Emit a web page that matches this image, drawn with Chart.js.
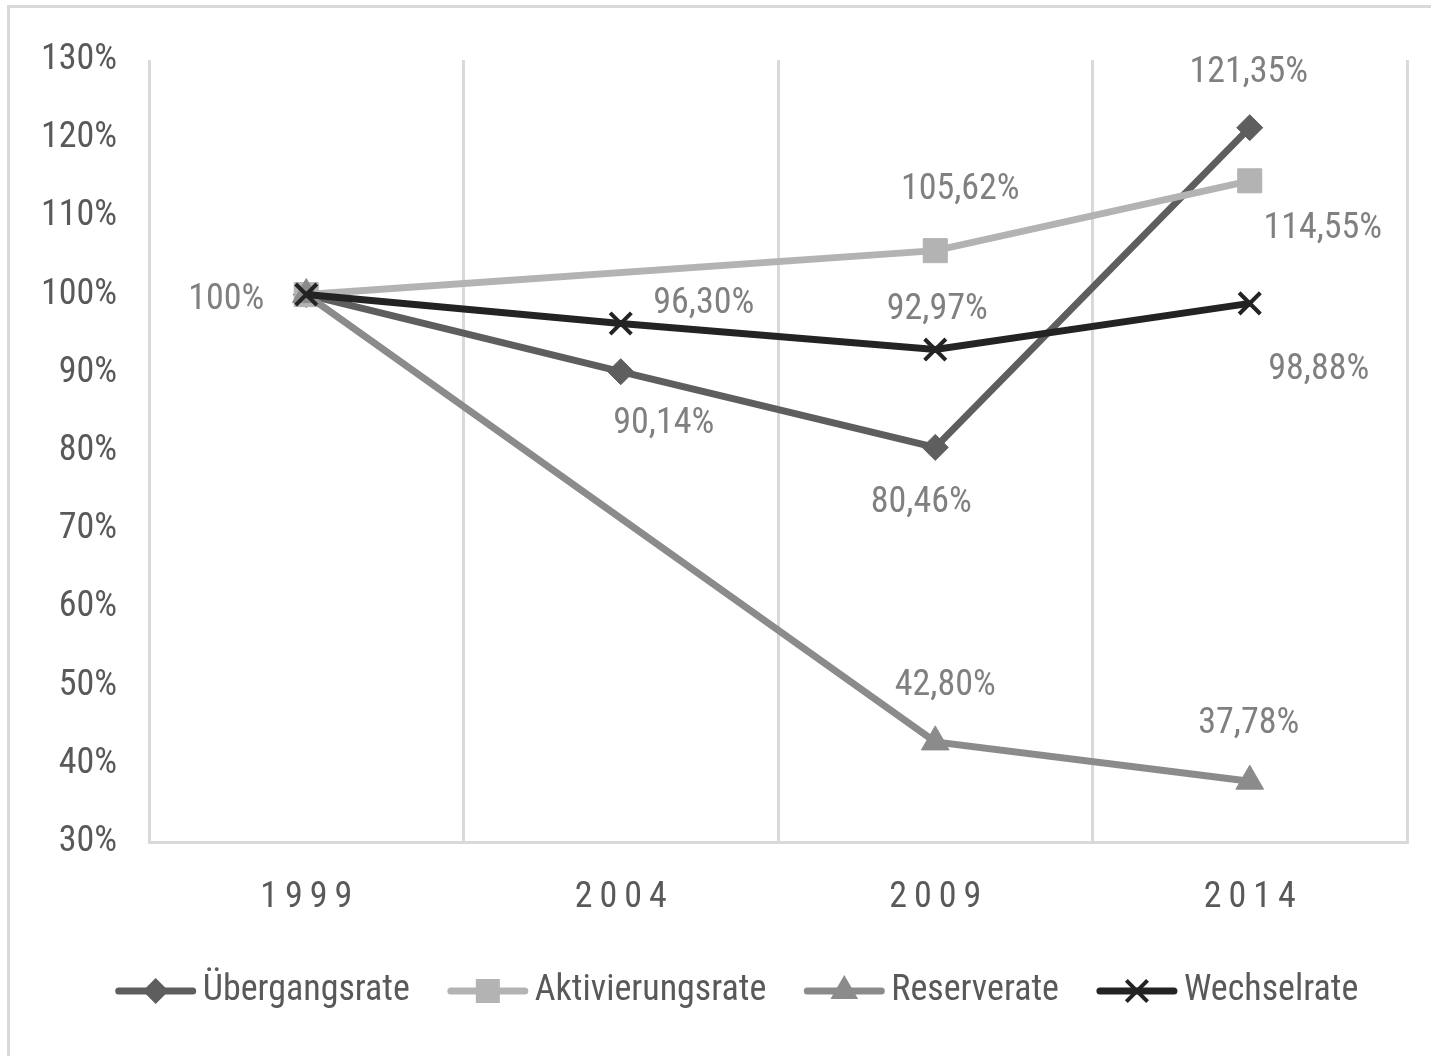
<!DOCTYPE html>
<html>
<head>
<meta charset="utf-8">
<script src="https://cdn.jsdelivr.net/npm/chart.js@4.4.1/dist/chart.umd.min.js"></script>
<style>
    html, body { margin: 0; padding: 0; background: #fff; overflow: hidden; }
    #frame { position: absolute; left: 7px; top: 5px; width: 1500px; height: 1100px; border: 3px solid #d9d9d9; }
    #wrap { position: absolute; left: 0; top: 0; width: 1431px; height: 1056px; }
</style>
</head>
<body>
<div id="frame"></div>
<div id="wrap"><canvas id="chart"></canvas></div>
<script>
// Data
const years = ['1999', '2004', '2009', '2014'];
const seriesNames = ['Übergangsrate', 'Aktivierungsrate', 'Reserverate', 'Wechselrate'];
const uebergangsrate = [100, 90.14, 80.46, 121.35];
const aktivierungsrate = [100, null, 105.62, 114.55];
const reserverate = [100, null, 42.80, 37.78];
const wechselrate = [100, 96.30, 92.97, 98.88];

// Style
const FONT = '"Liberation Sans Narrow", "Roboto Condensed", "DejaVu Sans Condensed", sans-serif';
const colors = ['#5e5e5e', '#b3b3b3', '#8b8b8b', '#232323'];
const pointStyles = ['rectRot', 'rect', 'triangle', 'crossRot'];
const pointRadii = [13, 17, 16, 15];
// data label offsets (px) from each point, null = no label
const labelOffsets = [
    [[-80, 5], [43, 52], [-14, 56], [-1, -55]],
    [null, null, [25, -61], [73, 48]],
    [null, null, [10, -56], [-1, -57]],
    [null, [83, -20], [2, -40], [69, 67]]
];

function fmt(v) {
    if (v === 100) return '100%';
    return v.toFixed(2).replace('.', ',') + '%';
}

const seriesData = [uebergangsrate, aktivierungsrate, reserverate, wechselrate];

const datasets = seriesNames.map((name, i) => ({
    label: name,
    data: seriesData[i],
    borderColor: colors[i],
    backgroundColor: colors[i],
    borderWidth: 7,
    tension: 0,
    spanGaps: true,
    pointStyle: pointStyles[i],
    pointRadius: pointRadii[i],
    pointHoverRadius: pointRadii[i],
    pointBackgroundColor: colors[i],
    pointBorderColor: colors[i],
    pointBorderWidth: i === 3 ? 4 : 1,
    order: 3 - i
}));

const labelPlugin = {
    id: 'labels',
    afterDatasetsDraw(chart) {
        const ctx = chart.ctx;
        ctx.save();
        ctx.font = '36px ' + FONT;
        ctx.fillStyle = '#808080';
        ctx.textAlign = 'center';
        ctx.textBaseline = 'middle';
        chart.data.datasets.forEach((ds, i) => {
            const meta = chart.getDatasetMeta(i);
            meta.data.forEach((pt, j) => {
                const off = labelOffsets[i][j];
                if (!off || ds.data[j] == null) return;
                ctx.fillText(fmt(ds.data[j]), pt.x + off[0], pt.y + off[1]);
            });
        });
        ctx.restore();
    }
};

function drawMarker(ctx, style, x, y, r, color) {
    ctx.fillStyle = color;
    ctx.strokeStyle = color;
    ctx.beginPath();
    if (style === 'rectRot') {
        ctx.moveTo(x, y - r); ctx.lineTo(x + r, y); ctx.lineTo(x, y + r); ctx.lineTo(x - r, y);
        ctx.closePath(); ctx.fill();
    } else if (style === 'rect') {
        const s = r * Math.SQRT1_2;
        ctx.rect(x - s, y - s, 2 * s, 2 * s); ctx.fill();
    } else if (style === 'triangle') {
        ctx.moveTo(x, y - r); ctx.lineTo(x + r * 0.866, y + r / 2); ctx.lineTo(x - r * 0.866, y + r / 2);
        ctx.closePath(); ctx.fill();
    } else {
        const s = r * Math.SQRT1_2;
        ctx.lineWidth = 4;
        ctx.moveTo(x - s, y - s); ctx.lineTo(x + s, y + s);
        ctx.moveTo(x + s, y - s); ctx.lineTo(x - s, y + s);
        ctx.stroke();
    }
}

const axisLegendPlugin = {
    id: 'axisLegend',
    afterDraw(chart) {
        const ctx = chart.ctx;
        const xs = chart.scales.x;
        ctx.save();
        // category labels with letter spacing
        ctx.font = '36px ' + FONT;
        ctx.fillStyle = '#595959';
        ctx.textAlign = 'center';
        ctx.textBaseline = 'middle';
        ctx.letterSpacing = '7px';
        years.forEach((y, i) => {
            ctx.fillText(y, xs.getPixelForValue(i) + 3.5, 898);
        });
        ctx.letterSpacing = '0px';

        // legend
        const lineLen = 80, gap = 7, itemGap = 38, ly = 991;
        const widths = chart.data.datasets.map(ds => ctx.measureText(ds.label).width);
        const total = widths.reduce((s, w) => s + lineLen + gap + w, 0) + itemGap * (widths.length - 1);
        let x = 737 - total / 2;
        ctx.textAlign = 'left';
        chart.data.datasets.forEach((ds, i) => {
            ctx.strokeStyle = colors[i];
            ctx.lineWidth = 7;
            ctx.lineCap = 'round';
            ctx.beginPath();
            ctx.moveTo(x + 3, ly); ctx.lineTo(x + lineLen - 3, ly);
            ctx.stroke();
            ctx.lineCap = 'butt';
            drawMarker(ctx, pointStyles[i], x + lineLen / 2, ly, pointRadii[i], colors[i]);
            ctx.fillStyle = '#595959';
            ctx.fillText(ds.label, x + lineLen + gap, ly);
            x += lineLen + gap + widths[i] + itemGap;
        });
        ctx.restore();
    }
};

new Chart(document.getElementById('chart').getContext('2d'), {
    type: 'line',
    data: { labels: years, datasets: datasets },
    options: {
        responsive: true,
        maintainAspectRatio: false,
        animation: false,
        events: [],
        layout: { padding: { left: 0, top: 60, right: 24, bottom: 104 } },
        plugins: {
            legend: { display: false },
            tooltip: { enabled: false }
        },
        scales: {
            x: {
                offset: true,
                grid: { display: true, offset: true, color: '#d9d9d9', lineWidth: 3, drawTicks: false },
                border: { display: true, color: '#d9d9d9', width: 3 },
                ticks: { color: 'rgba(0,0,0,0)', font: { size: 36, family: FONT } },
                afterFit(scale) { scale.height = 110; }
            },
            y: {
                min: 30,
                max: 130,
                grid: { display: false, drawTicks: false },
                border: { display: false },
                ticks: {
                    stepSize: 10,
                    padding: 32,
                    color: '#595959',
                    font: { size: 36, family: FONT },
                    callback: v => v + '%'
                },
                afterFit(scale) { scale.width = 149; }
            }
        }
    },
    plugins: [labelPlugin, axisLegendPlugin]
});
</script>
</body>
</html>
